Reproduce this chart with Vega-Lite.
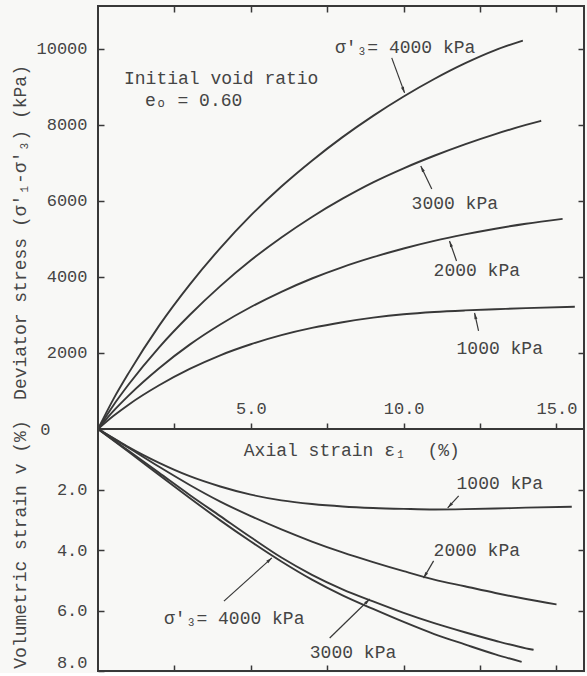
{
  "$schema": "https://vega.github.io/schema/vega-lite/v6.json",
  "background": "#f8f8f6",
  "padding": {"left": 9, "top": 4, "right": 4, "bottom": 0},
  "spacing": 0,
  "bounds": "flush",
  "config": {
    "view": {"stroke": "#383838", "strokeWidth": 2},
    "font": "Liberation Mono",
    "text": {"font": "Liberation Mono", "fontSize": 18, "color": "#454545"},
    "axis": {
      "labelFont": "Liberation Mono",
      "titleFont": "Liberation Mono",
      "labelColor": "#454545",
      "titleColor": "#454545",
      "tickColor": "#383838",
      "grid": false,
      "domain": false,
      "labelFontSize": 17,
      "titleFontSize": 18,
      "titleFontWeight": "normal",
      "tickWidth": 1.5
    }
  },
  "vconcat": [
    {
      "width": 486,
      "height": 423,
      "resolve": {"axis": {"x": "independent", "y": "independent"}},
      "layer": [
        {
          "data": {"values": [
            {"s": "1000", "e": 0, "q": 0}, {"s": "1000", "e": 0.5, "q": 340}, {"s": "1000", "e": 1, "q": 640}, {"s": "1000", "e": 2, "q": 1150}, {"s": "1000", "e": 3, "q": 1580}, {"s": "1000", "e": 4, "q": 1940}, {"s": "1000", "e": 5, "q": 2230}, {"s": "1000", "e": 6, "q": 2470}, {"s": "1000", "e": 7, "q": 2660}, {"s": "1000", "e": 8, "q": 2810}, {"s": "1000", "e": 9, "q": 2930}, {"s": "1000", "e": 10, "q": 3020}, {"s": "1000", "e": 11, "q": 3080}, {"s": "1000", "e": 12, "q": 3120}, {"s": "1000", "e": 13, "q": 3150}, {"s": "1000", "e": 14, "q": 3180}, {"s": "1000", "e": 15.6, "q": 3215},
            {"s": "2000", "e": 0, "q": 0}, {"s": "2000", "e": 0.5, "q": 470}, {"s": "2000", "e": 1, "q": 880}, {"s": "2000", "e": 2, "q": 1600}, {"s": "2000", "e": 3, "q": 2220}, {"s": "2000", "e": 4, "q": 2750}, {"s": "2000", "e": 5, "q": 3210}, {"s": "2000", "e": 6, "q": 3610}, {"s": "2000", "e": 7, "q": 3960}, {"s": "2000", "e": 8, "q": 4260}, {"s": "2000", "e": 9, "q": 4520}, {"s": "2000", "e": 10, "q": 4750}, {"s": "2000", "e": 11, "q": 4950}, {"s": "2000", "e": 12, "q": 5120}, {"s": "2000", "e": 13, "q": 5270}, {"s": "2000", "e": 14, "q": 5400}, {"s": "2000", "e": 15.2, "q": 5530},
            {"s": "3000", "e": 0, "q": 0}, {"s": "3000", "e": 0.5, "q": 620}, {"s": "3000", "e": 1, "q": 1170}, {"s": "3000", "e": 2, "q": 2150}, {"s": "3000", "e": 3, "q": 3000}, {"s": "3000", "e": 4, "q": 3760}, {"s": "3000", "e": 5, "q": 4440}, {"s": "3000", "e": 6, "q": 5040}, {"s": "3000", "e": 7, "q": 5580}, {"s": "3000", "e": 8, "q": 6060}, {"s": "3000", "e": 9, "q": 6490}, {"s": "3000", "e": 10, "q": 6860}, {"s": "3000", "e": 11, "q": 7190}, {"s": "3000", "e": 12, "q": 7490}, {"s": "3000", "e": 13, "q": 7760}, {"s": "3000", "e": 14, "q": 8000}, {"s": "3000", "e": 14.5, "q": 8110},
            {"s": "4000", "e": 0, "q": 0}, {"s": "4000", "e": 0.5, "q": 780}, {"s": "4000", "e": 1, "q": 1470}, {"s": "4000", "e": 2, "q": 2720}, {"s": "4000", "e": 3, "q": 3800}, {"s": "4000", "e": 4, "q": 4760}, {"s": "4000", "e": 5, "q": 5620}, {"s": "4000", "e": 6, "q": 6380}, {"s": "4000", "e": 7, "q": 7060}, {"s": "4000", "e": 8, "q": 7680}, {"s": "4000", "e": 9, "q": 8240}, {"s": "4000", "e": 10, "q": 8750}, {"s": "4000", "e": 11, "q": 9210}, {"s": "4000", "e": 12, "q": 9620}, {"s": "4000", "e": 13, "q": 9970}, {"s": "4000", "e": 13.9, "q": 10220}
          ]},
          "mark": {"type": "line", "color": "#383838", "strokeWidth": 1.9, "interpolate": "monotone"},
          "encoding": {
            "x": {"field": "e", "type": "quantitative", "scale": {"domain": [0, 15.9], "nice": false, "zero": false},
                  "axis": {"orient": "top", "values": [2.5, 5, 7.5, 10, 12.5, 15], "labels": false, "tickSize": -6, "title": null}},
            "y": {"field": "q", "type": "quantitative", "scale": {"domain": [0, 11130], "nice": false},
                  "axis": {"orient": "left", "values": [2000, 4000, 6000, 8000, 10000], "format": "d", "tickSize": -6, "labelPadding": 17,
                           "title": "Deviator stress (σ′₁-σ′₃) (kPa)", "titleX": -78, "titleY": 226, "titleBaseline": "middle"}},
            "detail": {"field": "s", "type": "nominal"}
          }
        },
        {
          "data": {"values": [
            {"x1": 9.61, "y1": 9765, "x2": 10.03, "y2": 8843},
            {"x1": 10.92, "y1": 6317, "x2": 10.56, "y2": 6922},
            {"x1": 11.73, "y1": 4422, "x2": 11.5, "y2": 4948},
            {"x1": 12.45, "y1": 2579, "x2": 12.32, "y2": 3053}
          ]},
          "mark": {"type": "rule", "color": "#383838", "strokeWidth": 1.2},
          "encoding": {
            "x": {"field": "x1", "type": "quantitative", "axis": null},
            "y": {"field": "y1", "type": "quantitative",
                  "axis": {"orient": "right", "values": [2000, 4000, 6000, 8000, 10000], "labels": false, "tickSize": -6, "title": null}},
            "x2": {"field": "x2"},
            "y2": {"field": "y2"}
          }
        },
        {
          "data": {"values": [{"x": 10.03, "y": 8843}]},
          "mark": {"type": "point", "shape": "M0,0L0.4,1.6L-0.4,1.6Z", "filled": true, "size": 60, "color": "#383838", "opacity": 1, "angle": 159.6},
          "encoding": {"x": {"field": "x", "type": "quantitative", "axis": null}, "y": {"field": "y", "type": "quantitative", "axis": null}}
        },
        {
          "data": {"values": [{"x": 10.56, "y": 6922}]},
          "mark": {"type": "point", "shape": "M0,0L0.4,1.6L-0.4,1.6Z", "filled": true, "size": 60, "color": "#383838", "opacity": 1, "angle": 334.4},
          "encoding": {"x": {"field": "x", "type": "quantitative", "axis": null}, "y": {"field": "y", "type": "quantitative", "axis": null}}
        },
        {
          "data": {"values": [{"x": 11.5, "y": 4948}]},
          "mark": {"type": "point", "shape": "M0,0L0.4,1.6L-0.4,1.6Z", "filled": true, "size": 60, "color": "#383838", "opacity": 1, "angle": 340.7},
          "encoding": {"x": {"field": "x", "type": "quantitative", "axis": null}, "y": {"field": "y", "type": "quantitative", "axis": null}}
        },
        {
          "data": {"values": [{"x": 12.32, "y": 3053}]},
          "mark": {"type": "point", "shape": "M0,0L0.4,1.6L-0.4,1.6Z", "filled": true, "size": 60, "color": "#383838", "opacity": 1, "angle": 347.5},
          "encoding": {"x": {"field": "x", "type": "quantitative", "axis": null}, "y": {"field": "y", "type": "quantitative", "axis": null}}
        },
        {
          "data": {"values": [
            {"x": 0.85, "y": 9209, "t": "Initial void ratio"},
            {"x": 1.54, "y": 8630, "t": "eₒ = 0.60"},
            {"x": 7.75, "y": 10024, "t": "σ′₃= 4000 kPa"},
            {"x": 10.26, "y": 5920, "t": "3000 kPa"},
            {"x": 10.98, "y": 4160, "t": "2000 kPa"},
            {"x": 11.73, "y": 2105, "t": "1000 kPa"}
          ]},
          "mark": {"type": "text", "align": "left", "baseline": "middle"},
          "encoding": {
            "x": {"field": "x", "type": "quantitative", "axis": null},
            "y": {"field": "y", "type": "quantitative", "axis": null},
            "text": {"field": "t"}
          }
        }
      ]
    },
    {
      "width": 486,
      "height": 242,
      "resolve": {"axis": {"x": "independent", "y": "independent"}},
      "layer": [
        {
          "data": {"values": [
            {"s": "1000", "e": 0, "v": 0}, {"s": "1000", "e": 0.5, "v": 0.3}, {"s": "1000", "e": 1, "v": 0.6}, {"s": "1000", "e": 2, "v": 1.12}, {"s": "1000", "e": 3, "v": 1.56}, {"s": "1000", "e": 4, "v": 1.9}, {"s": "1000", "e": 5, "v": 2.17}, {"s": "1000", "e": 6, "v": 2.36}, {"s": "1000", "e": 7, "v": 2.48}, {"s": "1000", "e": 8, "v": 2.56}, {"s": "1000", "e": 9, "v": 2.61}, {"s": "1000", "e": 10, "v": 2.64}, {"s": "1000", "e": 11, "v": 2.66}, {"s": "1000", "e": 12, "v": 2.65}, {"s": "1000", "e": 13, "v": 2.63}, {"s": "1000", "e": 14, "v": 2.6}, {"s": "1000", "e": 15.5, "v": 2.57},
            {"s": "2000", "e": 0, "v": 0}, {"s": "2000", "e": 1, "v": 0.62}, {"s": "2000", "e": 2, "v": 1.25}, {"s": "2000", "e": 3, "v": 1.85}, {"s": "2000", "e": 4, "v": 2.4}, {"s": "2000", "e": 5, "v": 2.88}, {"s": "2000", "e": 6, "v": 3.32}, {"s": "2000", "e": 7, "v": 3.72}, {"s": "2000", "e": 8, "v": 4.08}, {"s": "2000", "e": 9, "v": 4.4}, {"s": "2000", "e": 10, "v": 4.7}, {"s": "2000", "e": 11, "v": 4.98}, {"s": "2000", "e": 12, "v": 5.2}, {"s": "2000", "e": 13, "v": 5.42}, {"s": "2000", "e": 14, "v": 5.62}, {"s": "2000", "e": 15, "v": 5.8},
            {"s": "3000", "e": 0, "v": 0}, {"s": "3000", "e": 1, "v": 0.72}, {"s": "3000", "e": 2, "v": 1.45}, {"s": "3000", "e": 3, "v": 2.18}, {"s": "3000", "e": 4, "v": 2.88}, {"s": "3000", "e": 5, "v": 3.58}, {"s": "3000", "e": 6, "v": 4.25}, {"s": "3000", "e": 7, "v": 4.82}, {"s": "3000", "e": 8, "v": 5.3}, {"s": "3000", "e": 9, "v": 5.7}, {"s": "3000", "e": 10, "v": 6.08}, {"s": "3000", "e": 11, "v": 6.42}, {"s": "3000", "e": 12, "v": 6.72}, {"s": "3000", "e": 13, "v": 7.0}, {"s": "3000", "e": 14, "v": 7.25}, {"s": "3000", "e": 14.25, "v": 7.3},
            {"s": "4000", "e": 0, "v": 0}, {"s": "4000", "e": 1, "v": 0.75}, {"s": "4000", "e": 2, "v": 1.52}, {"s": "4000", "e": 3, "v": 2.28}, {"s": "4000", "e": 4, "v": 3.02}, {"s": "4000", "e": 5, "v": 3.72}, {"s": "4000", "e": 6, "v": 4.38}, {"s": "4000", "e": 7, "v": 4.98}, {"s": "4000", "e": 8, "v": 5.5}, {"s": "4000", "e": 9, "v": 5.95}, {"s": "4000", "e": 10, "v": 6.38}, {"s": "4000", "e": 11, "v": 6.78}, {"s": "4000", "e": 12, "v": 7.12}, {"s": "4000", "e": 13, "v": 7.45}, {"s": "4000", "e": 13.86, "v": 7.7}
          ]},
          "mark": {"type": "line", "color": "#383838", "strokeWidth": 1.9, "interpolate": "monotone"},
          "encoding": {
            "x": {"field": "e", "type": "quantitative", "scale": {"domain": [0, 15.9], "nice": false, "zero": false},
                  "axis": {"orient": "top", "values": [2.5, 5, 7.5, 10, 12.5, 15], "tickSize": 6, "labelPadding": 6, "labelFlush": false,
                           "labelExpr": "datum.value % 5 == 0 ? format(datum.value, '.1f') : ''", "title": null}},
            "y": {"field": "v", "type": "quantitative", "scale": {"domain": [0, 8], "nice": false, "reverse": true},
                  "axis": {"orient": "left", "values": [0, 2, 4, 6, 8], "tickSize": -6,
                           "labelPadding": {"condition": {"test": "datum.value == 0", "value": 54}, "value": 17},
                           "labelBaseline": {"condition": {"test": "datum.value == 8", "value": "bottom"}, "value": "middle"},
                           "labelExpr": "datum.value == 0 ? '0' : format(datum.value, '.1f')",
                           "title": "Volumetric strain v (%)", "titleX": -78, "titleY": 115, "titleBaseline": "middle"}},
            "detail": {"field": "s", "type": "nominal"}
          }
        },
        {
          "data": {"values": [
            {"x1": 11.8, "y1": 2.21, "x2": 11.44, "y2": 2.61},
            {"x1": 10.98, "y1": 4.36, "x2": 10.65, "y2": 4.93},
            {"x1": 7.58, "y1": 6.91, "x2": 8.89, "y2": 5.62},
            {"x1": 4.12, "y1": 5.69, "x2": 5.69, "y2": 4.26}
          ]},
          "mark": {"type": "rule", "color": "#383838", "strokeWidth": 1.2},
          "encoding": {
            "x": {"field": "x1", "type": "quantitative",
                  "axis": {"orient": "bottom", "values": [2.5, 5, 7.5, 10, 12.5, 15], "labels": false, "tickSize": -6, "title": null}},
            "y": {"field": "y1", "type": "quantitative",
                  "axis": {"orient": "right", "values": [2, 4, 6], "labels": false, "tickSize": -6, "title": null}},
            "x2": {"field": "x2"},
            "y2": {"field": "y2"}
          }
        },
        {
          "data": {"values": [{"x": 11.44, "y": 2.61}]},
          "mark": {"type": "point", "shape": "M0,0L0.4,1.6L-0.4,1.6Z", "filled": true, "size": 60, "color": "#383838", "opacity": 1, "angle": 222.5},
          "encoding": {"x": {"field": "x", "type": "quantitative", "axis": null}, "y": {"field": "y", "type": "quantitative", "axis": null}}
        },
        {
          "data": {"values": [{"x": 10.65, "y": 4.93}]},
          "mark": {"type": "point", "shape": "M0,0L0.4,1.6L-0.4,1.6Z", "filled": true, "size": 60, "color": "#383838", "opacity": 1, "angle": 210.5},
          "encoding": {"x": {"field": "x", "type": "quantitative", "axis": null}, "y": {"field": "y", "type": "quantitative", "axis": null}}
        },
        {
          "data": {"values": [{"x": 8.89, "y": 5.62}]},
          "mark": {"type": "point", "shape": "M0,0L0.4,1.6L-0.4,1.6Z", "filled": true, "size": 60, "color": "#383838", "opacity": 1, "angle": 45.7},
          "encoding": {"x": {"field": "x", "type": "quantitative", "axis": null}, "y": {"field": "y", "type": "quantitative", "axis": null}}
        },
        {
          "data": {"values": [{"x": 5.69, "y": 4.26}]},
          "mark": {"type": "point", "shape": "M0,0L0.4,1.6L-0.4,1.6Z", "filled": true, "size": 60, "color": "#383838", "opacity": 1, "angle": 48.2},
          "encoding": {"x": {"field": "x", "type": "quantitative", "axis": null}, "y": {"field": "y", "type": "quantitative", "axis": null}}
        },
        {
          "data": {"values": [
            {"x": 4.77, "y": 0.73, "t": "Axial strain ε₁\u00a0\u00a0(%)"},
            {"x": 11.73, "y": 1.82, "t": "1000 kPa"},
            {"x": 10.98, "y": 4.03, "t": "2000 kPa"},
            {"x": 6.93, "y": 7.4, "t": "3000 kPa"},
            {"x": 2.16, "y": 6.28, "t": "σ′₃= 4000 kPa"}
          ]},
          "mark": {"type": "text", "align": "left", "baseline": "middle"},
          "encoding": {
            "x": {"field": "x", "type": "quantitative", "axis": null},
            "y": {"field": "y", "type": "quantitative", "axis": null},
            "text": {"field": "t"}
          }
        }
      ]
    }
  ]
}
